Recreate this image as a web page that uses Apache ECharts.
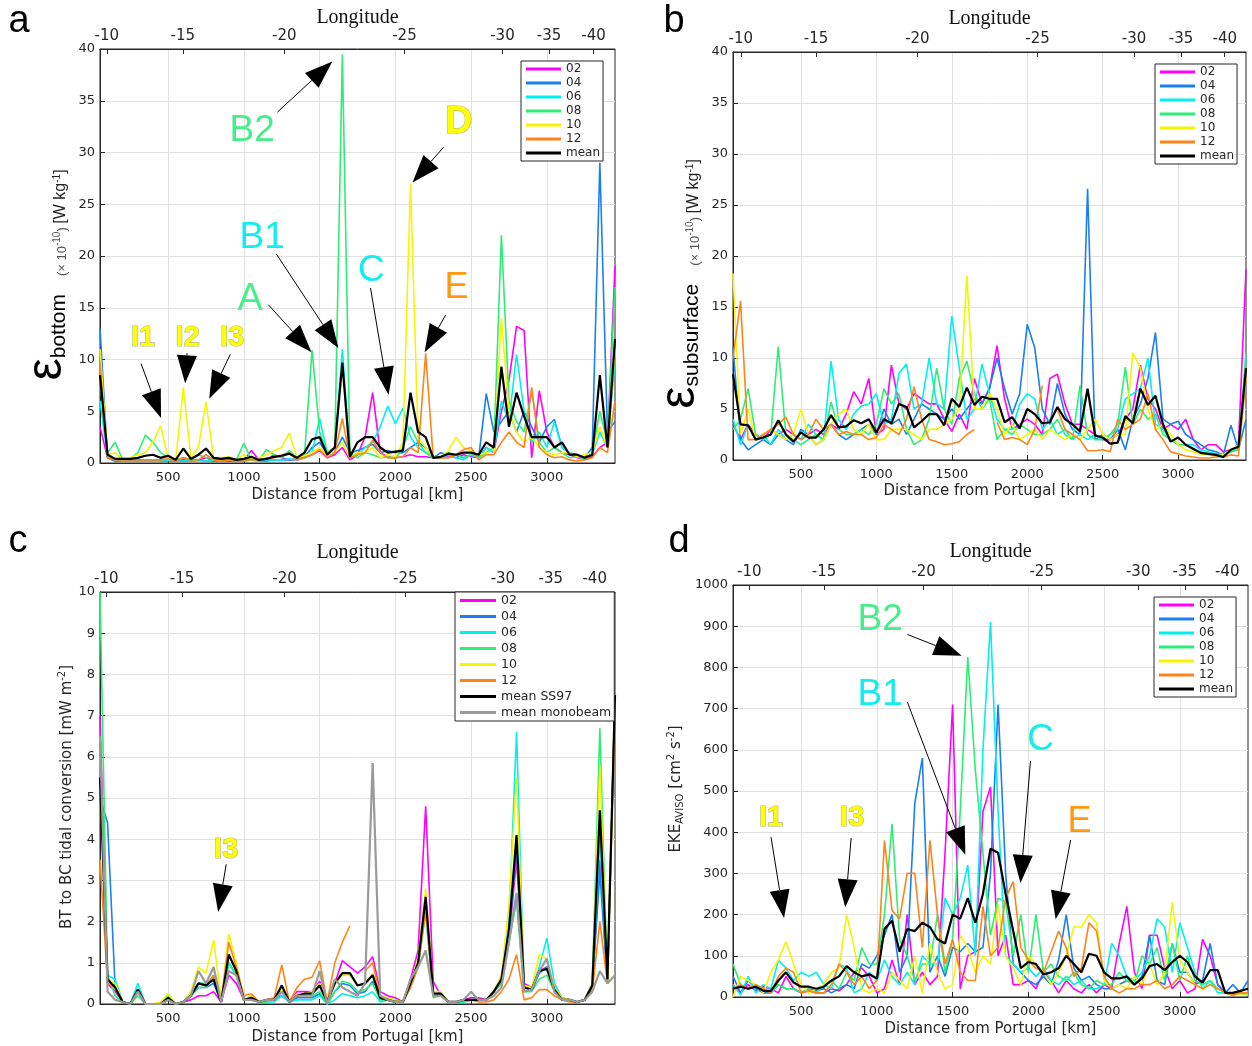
<!DOCTYPE html>
<html><head><meta charset="utf-8">
<script src="https://cdn.jsdelivr.net/npm/echarts@6/dist/echarts.min.js"></script>
<style>html,body{margin:0;padding:0;background:#fff}#c{width:1252px;height:1046px}</style>
</head><body><div id="c"></div>
<script>
// ---------- DATA ----------
const dist = [50,100,150,200,250,300,350,400,450,500,550,600,650,700,750,800,850,900,950,1000,1050,1100,1150,1200,1250,1300,1350,1400,1450,1500,1550,1600,1650,1700,1750,1800,1850,1900,1950,2000,2050,2100,2150,2200,2250,2300,2350,2400,2450,2500,2550,2600,2650,2700,2750,2800,2850,2900,2950,3000,3050,3100,3150,3200,3250,3300,3350,3400,3450];
const lonLabels = ['-10','-15','-20','-25','-30','-35','-40'];
const lonA = [95,597,1267,2060,2707,3015,3308];
const lonB = [102,600,1272,2068,2708,3020,3309];
const lonC = [92,592,1268,2066,2710,3026,3316];
const lonD = [158,651,1308,2088,2725,3033,3313];

// panel a: epsilon bottom
const bot02 = [3.5,0.5,0.2,0.2,0.3,0.2,0.3,0.3,0.2,0.3, 0.2,0.3,0.2,0.3,0.5,0.2,0.3,0.2,0.2,0.3, 1.2,0.3,0.3,0.8,0.5,0.3,0.3,0.5,0.8,1.2, 0.5,0.8,1.5,0.3,0.8,2.5,6.8,1.0,0.6,0.5, 0.6,0.8,0.6,0.6,0.5,0.6,0.7,0.5,0.8,0.6, 0.5,1.5,1.0,5.0,8.0,13.2,12.8,0.5,7.0,3.0, 1.5,1.0,0.8,0.5,0.4,0.6,1.5,2.0,19];
const bot04 = [13,0.5,0.2,0.2,0.2,0.2,0.2,0.2,0.2,0.2, 0.2,0.2,0.2,0.3,0.2,0.2,0.2,0.2,0.2,0.2, 0.3,0.2,0.2,0.3,0.3,0.3,0.4,0.6,1.5,2.0, 0.8,1.0,2.5,1.0,1.2,1.5,1.8,1.0,1.2,1.0, 1.0,1.5,2.0,1.5,0.5,1.0,0.8,0.8,0.5,0.8, 0.5,6.7,3.0,4.0,5.0,3.0,5.0,3.5,2.0,3.5, 4.2,1.5,1.0,0.8,0.5,1.5,29,3.0,4.0];
const bot06 = [6,0.5,0.3,0.2,0.2,0.2,0.2,0.2,0.2,0.3, 0.2,0.2,0.2,0.2,0.2,0.3,0.2,0.3,0.2,0.2, 0.3,0.2,0.3,0.3,0.3,0.4,0.3,0.5,1.0,4.3, 1.0,1.5,11,0.5,0.8,1.5,2.0,3.5,5.5,3.8, 5.3,2.5,1.5,1.0,0.5,0.5,0.8,0.5,0.3,0.8, 0.5,1.5,1.0,6.0,4.0,10.5,5.0,2.0,3.0,1.5, 4.0,1.5,1.0,0.6,0.5,0.8,3.0,1.5,10];
const bot08 = [8,1.0,2.0,0.3,0.4,1.0,2.7,2.0,1.0,0.5, 0.3,0.5,0.3,0.8,0.5,0.5,0.3,0.4,0.3,1.9, 0.3,0.3,1.3,0.8,0.5,1.2,0.5,0.8,10.9,3.0, 1.0,1.5,39.5,1.0,0.5,1.0,0.8,0.5,0.6,0.4, 1.5,3.5,2.0,1.0,0.5,0.6,1.0,0.8,0.5,0.8, 0.5,1.0,1.5,22,6,4,3,7.0,2.0,1.0, 1.5,1.0,0.5,0.6,0.4,1.0,5,2.0,17];
const bot10 = [11,0.8,1.0,0.3,0.5,0.8,1.0,2.0,3.6,0.5, 0.3,7.3,0.5,1.5,5.9,0.5,0.5,0.6,0.3,0.8, 0.3,0.5,0.8,1.2,1.5,2.9,0.5,0.7,1.0,1.5, 0.8,1.0,2.0,0.5,1.0,1.0,1.5,0.5,0.8,0.6, 2.0,27,2.5,1.5,0.5,0.6,1.2,2.5,1.5,1.2, 0.8,1.0,0.8,14,5,3,2,2.5,1.5,1.0, 0.8,1.0,1.0,0.6,0.8,1.0,3.5,1.5,11];
const bot12 = [9.5,0.5,0.3,0.3,0.3,0.3,0.3,0.3,0.3,0.4, 0.2,0.5,0.3,0.3,0.8,0.3,0.2,0.3,0.2,0.3, 0.3,0.3,0.5,0.5,0.8,1.0,0.3,0.5,0.8,1.3, 0.5,1.0,4.3,0.5,0.8,1.0,2.2,1.0,0.5,0.5, 0.6,1.5,1.0,10.6,0.5,0.5,0.5,0.8,1.3,1.5, 0.3,0.8,0.8,2.0,3.0,2.0,1.5,7.3,1.5,0.8, 0.5,0.6,0.3,0.2,0.3,0.5,1.5,1.0,6];
const botMean = [8.5,0.8,0.4,0.4,0.4,0.5,0.7,0.8,0.5,0.7, 0.3,1.4,0.4,0.8,1.4,0.5,0.4,0.5,0.3,0.4, 0.6,0.3,0.4,0.6,0.7,0.9,0.5,1.0,2.3,2.5, 0.8,1.5,9.7,0.6,2.0,2.5,2.5,1.5,1.0,1.1, 1.2,6.8,3.0,2.5,0.5,0.6,0.9,0.8,1.0,1.0, 0.8,2.0,1.5,9.3,3.5,6.8,4.5,2.5,2.5,2.5, 1.5,2.0,0.8,0.8,0.5,0.8,8.5,1.5,12];

// panel b: epsilon subsurface
const sub02 = [3.5,2.0,3.5,2.5,2.0,3.0,2.5,3.0,2.5,2.0, 2.5,3.0,2.5,3.5,3.0,4.5,6.7,5.5,8.0,2.5, 3.0,9.3,5.5,5.0,6.5,6.0,5.5,5.5,4.0,2.8, 4.5,3.0,8.0,5.5,7.0,11.2,6.0,3.0,3.5,4.0, 3.5,2.5,8.0,8.4,5.5,3.5,3.5,3.0,2.5,2.0, 2.0,2.5,4.0,5.0,9.3,6.0,5.0,3.0,3.5,3.0, 4.0,2.0,1.0,1.5,1.5,0.8,1.0,1.5,18.7];
const sub04 = [11,2.0,1.0,1.5,2.0,1.5,2.5,2.0,1.5,3.0, 2.5,1.5,2.0,3.5,2.5,2.0,2.5,3.0,3.5,2.5, 5.0,3.5,4.0,2.5,4.0,5.5,5.0,4.5,4.0,5.0, 4.0,5.0,6.0,5.5,7.0,10.0,7.0,4.5,6.5,13.3, 11.0,5.0,3.5,7.5,4.5,3.0,2.5,26.6,2.0,2.5, 2.0,3.0,1.0,4.0,5.5,8.0,12.5,4.0,3.5,3.8, 2.5,2.0,1.5,1.0,0.8,0.5,3.4,1.0,4.0];
const sub06 = [4.0,1.5,3.5,2.0,2.5,1.5,3.0,2.0,2.5,2.0, 3.5,2.5,2.0,9.7,4.0,3.0,4.5,5.3,5.5,6.5, 3.5,4.0,8.5,9.4,5.0,5.5,10.0,5.5,5.0,14.1, 9.0,4.0,5.0,9.4,6.5,4.0,3.0,3.0,5.5,6.5, 6.0,3.0,4.0,2.5,3.0,2.0,2.5,2.0,2.5,2.0, 2.5,3.0,6.0,6.5,7.0,10.0,3.5,3.0,2.0,1.5, 1.5,1.5,1.0,0.8,0.6,0.5,0.8,1.0,10];
const sub08 = [3.0,4.0,7.0,2.5,2.0,2.5,11.1,2.5,2.0,1.5, 2.0,2.5,2.0,5.7,3.0,2.5,2.5,3.0,2.5,3.5, 7.0,5.5,6.5,3.0,1.5,2.0,4.0,9.0,5.0,3.5, 8.0,9.7,6.5,5.0,6.0,2.0,3.0,2.5,3.5,3.0, 2.5,2.5,3.0,4.0,2.5,2.0,7.3,2.5,2.0,2.0, 2.5,3.5,9.1,3.5,5.0,4.0,4.5,2.5,2.0,1.5, 1.5,1.0,0.8,0.6,0.5,0.4,0.8,1.0,10.5];
const sub10 = [18.3,2.5,5.0,2.0,2.5,3.0,2.5,2.0,2.5,5.0, 2.5,1.5,2.0,3.5,4.5,5.0,3.0,2.5,3.5,2.0, 2.0,3.0,3.0,3.0,2.5,2.0,3.0,3.0,3.5,4.0, 5.0,18.1,5.0,5.0,6.5,5.0,2.5,3.5,2.0,2.5, 3.0,2.0,3.0,2.5,2.0,2.5,2.0,3.0,4.0,2.5, 2.0,2.5,2.5,10.5,9.0,5.0,3.0,3.5,2.5,1.5, 1.0,0.8,0.6,0.5,0.4,0.5,1.0,1.5,8.0];
const sub12 = [10,15.6,2.0,2.0,2.5,3.0,3.5,4.2,2.5,2.0, 2.5,4.0,3.0,3.5,2.5,2.8,2.5,2.5,2.0,2.2, 3.5,3.0,2.5,4.0,7.2,4.0,2.0,1.8,1.5,1.6, 1.8,2.5,3.0,null,null,3.7,2.0,2.2,2.0,1.5, 3.0,7.3,null,5.0,3.0,2.5,2.0,0.9,0.9,1.0, 0.8,4.0,3.0,3.5,4.0,6.5,3.0,2.0,0.8,0.6, 0.4,0.3,0.2,0.2,0.3,0.3,0.5,0.4,8.0];
const subMean = [8.4,3.5,3.4,2.0,2.2,2.5,3.9,2.5,1.8,2.7, 2.2,2.2,3.0,4.4,3.2,3.3,3.9,3.6,4.0,2.7, 4.0,3.6,5.5,5.2,3.2,3.8,4.5,4.5,3.4,6.0, 5.2,7.1,5.4,6.2,6.0,6.0,3.7,4.2,3.1,5.0, 4.5,3.6,3.7,5.2,4.0,3.5,2.8,7.0,2.4,2.2, 1.6,1.7,4.3,3.6,7.0,5.4,6.3,3.5,1.8,2.2, 1.5,1.1,0.7,0.6,0.5,0.3,1.0,1.3,9.0];

// panel c: BT to BC tidal conversion
const conv02 = [7.0,0.5,0.3,0.05,0,0.3,0,0,0,0.1, 0,0.05,0.1,0.2,0.2,0.3,0.05,0.7,0.5,0.1, 0.15,0.05,0.1,0.1,0.2,0.05,0.3,0.3,0.3,0.55, 0.05,0.5,1.05,0.9,0.75,0.9,1.15,0.3,0.2,0.15, 0.05,0.6,1.3,4.8,0.55,0.2,0.05,0.05,0.1,0.15, 0.15,0.1,0.3,0.5,1.6,3.5,0.5,0.4,0.8,0.9, 0.4,0.15,0.1,0.05,0.1,0.4,3.5,0.5,7.5];
const conv04 = [5.0,4.4,0.4,0.05,0,0.3,0,0,0,0.1, 0,0.05,0.2,0.4,0.4,0.5,0.05,1.0,0.7,0.1, 0.15,0.05,0.1,0.1,0.3,0.05,0.15,0.15,0.15,0.25, 0.0,0.3,0.5,0.45,0.25,0.3,0.55,0.15,0.15,0.1, 0.05,0.5,0.9,2.4,0.2,0.25,0.05,0.05,0.05,0.1, 0.1,0.1,0.3,0.6,1.6,3.8,0.4,0.35,0.75,0.9, 0.35,0.1,0.1,0.05,0.1,0.4,3.2,0.5,7.5];
const conv06 = [6.0,0.7,0.6,0.05,0,0.5,0,0,0,0.1, 0,0.05,0.2,0.5,0.5,0.6,0.05,1.0,0.7,0.1, 0.1,0.05,0.05,0.05,0.2,0.05,0.1,0.1,0.1,0.2, 0.0,0.1,0.25,0.2,0.15,0.2,0.3,0.05,0.1,0.05, 0.05,0.5,0.9,2.5,0.2,0.2,0.05,0.05,0.05,0.1, 0.1,0.1,0.3,0.6,2.0,6.6,0.4,0.35,0.9,1.6, 0.5,0.15,0.1,0.05,0.1,0.5,4.0,0.5,7.5];
const conv08 = [10.0,0.7,0.2,0.05,0,0.2,0,0,0,0.2, 0,0.05,0.2,0.4,0.4,0.7,0.05,1.0,0.7,0.1, 0.1,0.05,0.05,0.1,0.3,0.05,0.2,0.2,0.2,0.3, 0.0,0.3,0.55,0.5,0.3,0.35,0.5,0.1,0.1,0.05, 0.05,0.4,0.9,2.2,0.15,0.2,0.05,0.05,0.05,0.1, 0.1,0.1,0.3,0.5,1.5,2.5,0.3,0.3,0.6,0.7, 0.3,0.1,0.1,0.05,0.1,0.5,6.7,0.5,7.5];
const conv10 = [5.5,0.6,0.5,0.05,0,0.3,0,0,0.05,0.25, 0,0.05,0.3,0.9,0.75,1.55,0.1,1.7,1.0,0.1, 0.2,0.05,0.1,0.1,0.4,0.05,0.25,0.25,0.3,0.5, 0.0,0.5,0.7,0.7,0.45,0.5,0.75,0.2,0.15,0.1, 0.05,0.5,1.1,2.8,0.3,0.3,0.05,0.05,0.1,0.1, 0.1,0.1,0.3,0.7,2.4,5.5,0.45,0.4,1.2,1.1, 0.4,0.15,0.1,0.05,0.1,0.5,5.8,0.5,7.5];
const conv12 = [3.5,0.5,0.4,0.05,0,0.3,0,0,0,0.1, 0,0.05,0.2,0.5,0.45,0.7,0.05,1.5,0.9,0.2, 0.25,0.05,0.1,0.15,0.95,0.05,0.4,0.6,0.65,1.05, 0.05,1.0,1.5,1.9,null,0.8,1.0,0.2,0.1,0.05, 0.05,0.4,0.9,2.3,0.2,0.2,0.05,0.05,0.1,0.1, 0.05,0.05,0.1,0.3,0.6,1.2,0.1,0.15,0.35,0.35, 0.2,0.1,0.05,0.05,0.1,0.3,2.0,0.5,7.0];
const convMean = [5.5,0.6,0.4,0.05,0,0.35,0,0,0,0.15, 0,0.05,0.2,0.5,0.45,0.6,0.05,1.2,0.8,0.1, 0.15,0.05,0.1,0.1,0.45,0.05,0.2,0.25,0.25,0.45, 0.05,0.5,0.75,0.75,0.45,0.5,0.7,0.15,0.1,0.05, 0.05,0.5,1.0,2.6,0.25,0.25,0.05,0.05,0.1,0.1, 0.1,0.1,0.3,0.6,1.8,4.1,0.4,0.35,0.8,0.85, 0.35,0.1,0.1,0.05,0.1,0.45,4.7,0.6,7.5];
const convMono = [6.5,0.3,0.1,0.05,0,0.3,0,0,0,0.1, 0,0.05,0.2,0.8,0.5,0.9,0.05,0.8,0.7,0.1, 0.1,0.05,0.1,0.1,0.3,0.05,0.2,0.2,0.2,0.8, 0.0,0.6,0.4,0.3,0.2,0.5,5.85,0.2,0.1,0.05, 0.05,0.6,0.9,1.3,0.2,0.2,0.05,0.05,0.1,0.3, 0.1,0.1,0.2,0.4,1.5,2.7,0.3,0.35,0.8,1.1, 0.3,0.1,0.1,0.05,0.1,0.3,0.8,0.5,0.7];

// panel d: EKE AVISO
const eke02 = [30,10,30,15,25,20,10,50,20,10, 15,10,10,20,15,30,60,70,50,10, 20,90,30,200,30,60,30,50,350,710, 20,100,110,450,510,100,150,30,30,40, 20,60,40,10,40,20,10,30,10,30, 20,130,220,60,20,150,150,70,20,40, 10,20,140,100,30,10,5,10,5];
const eke04 = [50,10,40,20,10,10,30,20,20,10, 20,15,20,10,20,30,20,80,70,100, 150,200,60,100,470,580,60,100,50,120, 110,130,110,120,300,710,300,80,60,40, 30,50,30,90,200,70,40,50,30,20, 20,30,40,30,50,150,40,30,130,60, 60,30,40,130,30,10,30,10,40];
const eke06 = [30,5,50,10,30,20,90,70,40,60, 50,60,30,20,80,70,10,20,60,40, 90,50,30,60,30,100,80,80,240,200, 240,320,100,600,910,450,100,80,60,70, 50,70,40,30,50,30,40,20,20,30, 130,100,50,40,60,100,190,170,60,180, 120,60,20,40,10,10,5,10,5];
const eke08 = [80,30,20,30,20,10,30,20,20,10, 20,10,30,40,20,60,40,120,80,80, 200,420,140,100,40,80,80,200,60,140, 450,825,550,350,150,240,230,100,200,60, 200,60,80,50,40,60,30,20,40,30, 30,60,40,30,100,80,120,40,130,40, 100,40,30,40,20,10,5,10,10];
const eke10 = [0,50,40,30,10,60,90,135,80,30, 10,20,30,60,70,200,120,20,10,20, 10,60,40,20,100,10,130,60,20,30, 150,120,60,100,80,225,100,70,30,100, 80,60,30,60,100,170,170,200,180,40, 20,30,20,50,30,80,30,60,230,90, 60,30,20,30,20,10,10,5,5];
const eke12 = [20,30,20,30,20,10,50,70,60,10, 15,10,10,30,80,60,30,50,20,40, 380,210,190,300,300,120,380,200,80,140, 60,40,40,220,100,120,240,280,120,90, 70,60,110,160,120,50,70,180,160,50, 20,10,20,20,30,30,40,20,30,50, 40,30,20,30,20,10,5,10,10];
const ekeMean = [20,25,20,25,15,15,40,60,35,25, 25,20,25,40,50,75,60,50,55,45, 165,185,110,165,160,180,170,140,130,200, 190,240,180,250,360,350,250,160,70,85, 80,55,60,70,100,80,60,105,100,60, 45,45,50,30,45,75,80,65,85,100, 85,50,35,65,65,10,10,15,20];

// annotations (data coordinates): label position, arrow start, arrow tip
const annotA = [
  {t:'B2', c:'#44ee88', s:37, b:false, at:[1055,32.1], from:[1221,33.9], to:[1584,38.8]},
  {t:'D',  c:'#ffff00', s:38, b:true,  at:[2418,32.9], from:[2318,30.5], to:[2113,27.1]},
  {t:'B1', c:'#11eeee', s:37, b:false, at:[1121,21.8], from:[1214,20.2], to:[1624,11.1]},
  {t:'A',  c:'#44ee88', s:38, b:false, at:[1042,15.8], from:[1161,15.3], to:[1446,10.7]},
  {t:'C',  c:'#11eeee', s:37, b:false, at:[1842,18.6], from:[1836,16.9], to:[1955,6.6]},
  {t:'E',  c:'#ff9a10', s:36, b:false, at:[2404,16.9], from:[2332,14.3], to:[2193,10.7]},
  {t:'I1', c:'#ffff00', s:29, b:true,  at:[334,12.1],  from:[321,9.6],   to:[453,4.35]},
  {t:'I2', c:'#ffff00', s:29, b:true,  at:[629,12.1],  from:[625,10.6],  to:[612,7.7]},
  {t:'I3', c:'#ffff00', s:29, b:true,  at:[923,12.1],  from:[910,10.5],  to:[771,6.2]}
];
const annotC = [
  {t:'I3', c:'#ffff00', s:29, b:true, at:[883,3.75], from:[883,3.39], to:[830,2.23]}
];
const annotD = [
  {t:'B2', c:'#44ee88', s:37, b:false, at:[1022,915], from:[1201,880], to:[1560,828]},
  {t:'B1', c:'#11eeee', s:37, b:false, at:[1022,733], from:[1201,716], to:[1584,345]},
  {t:'C',  c:'#11eeee', s:37, b:false, at:[2080,624], from:[2014,573], to:[1948,277]},
  {t:'E',  c:'#ff9a10', s:36, b:false, at:[2338,425], from:[2279,381], to:[2180,189]},
  {t:'I1', c:'#ffff00', s:29, b:true,  at:[301,434],  from:[301,388],  to:[387,192]},
  {t:'I3', c:'#ffff00', s:29, b:true,  at:[837,434],  from:[830,386],  to:[791,218]}
];

// ---------- STYLE ----------
const FONT = 'DejaVu Sans';
const TXT = '#262626';
const colors = {'02':'#ff00ff','04':'#1a7ff0','06':'#00f0f0','08':'#2dee74','10':'#f5f500','12':'#ff8418','mean':'#000000','mean SS97':'#000000','mean monobeam':'#9a9a9a'};

const panels = [
  {grid:{left:100,top:49,width:515,height:414}, ymax:40, yint:5, lon:lonA, lonGap:19, distGap:25,
   leg:{left:521,top:61,fs:12,gap:2,w:35},
   series:[['02',bot02],['04',bot04],['06',bot06],['08',bot08],['10',bot10],['12',bot12],['mean',botMean]], ann:annotA},
  {grid:{left:733,top:52,width:513,height:408}, ymax:40, yint:5, lon:lonB, lonGap:23, distGap:24,
   leg:{left:1155,top:64,fs:12,gap:2,w:35},
   series:[['02',sub02],['04',sub04],['06',sub06],['08',sub08],['10',sub10],['12',sub12],['mean',subMean]], ann:[]},
  {grid:{left:100,top:592,width:515,height:413}, ymax:10, yint:1, lon:lonC, lonGap:29, distGap:26,
   leg:{left:455,top:592,fs:12.5,gap:3,w:36},
   series:[['02',conv02],['04',conv04],['06',conv06],['08',conv08],['10',conv10],['12',conv12],['mean SS97',convMean],['mean monobeam',convMono]], ann:annotC},
  {grid:{left:733,top:585,width:515,height:412}, ymax:1000, yint:100, lon:lonD, lonGap:23, distGap:25,
   leg:{left:1154,top:597,fs:12,gap:2,w:35},
   series:[['02',eke02],['04',eke04],['06',eke06],['08',eke08],['10',eke10],['12',eke12],['mean',ekeMean]], ann:annotD}
];

function nearestIdx(arr, v){ let b=0; for(let i=1;i<arr.length;i++){ if(Math.abs(arr[i]-v)<Math.abs(arr[b]-v)) b=i; } return b; }
const plain = (v)=>String(v);

const option = {animation:false, backgroundColor:'#fff', grid:[], xAxis:[], yAxis:[], legend:[], series:[]};
panels.forEach((p,k)=>{
  option.grid.push(Object.assign({show:true, borderColor:TXT, borderWidth:1, backgroundColor:'rgba(0,0,0,0)'}, p.grid));
  option.xAxis.push({type:'value', gridIndex:k, position:'bottom', min:50, max:3450, splitNumber:7,
    axisLine:{show:true, onZero:false, lineStyle:{color:TXT, width:1}},
    axisTick:{show:true, inside:true, length:5, lineStyle:{color:TXT}},
    axisLabel:{showMinLabel:false, showMaxLabel:false, formatter:plain, fontFamily:FONT, fontSize:13, color:TXT, margin:8},
    splitLine:{show:true, showMinLine:false, showMaxLine:false, lineStyle:{color:'#e1e1e1', width:1}},
    name:'Distance from Portugal [km]', nameLocation:'middle', nameGap:p.distGap,
    nameTextStyle:{fontFamily:FONT, fontSize:15, color:TXT}});
  const lon = p.lon;
  option.xAxis.push({type:'value', gridIndex:k, position:'top', min:50, max:3450,
    axisLine:{show:true, onZero:false, lineStyle:{color:TXT, width:1}},
    axisTick:{show:true, inside:true, length:5, customValues:lon, lineStyle:{color:TXT}},
    axisLabel:{customValues:lon, formatter:(v)=>lonLabels[nearestIdx(lon, v)], fontFamily:FONT, fontSize:15, color:TXT, margin:5},
    splitLine:{show:false},
    name:'Longitude', nameLocation:'middle', nameGap:p.lonGap,
    nameTextStyle:{fontFamily:'Liberation Serif', fontSize:20, color:'#111'}});
  option.yAxis.push({type:'value', gridIndex:k, min:0, max:p.ymax, interval:p.yint,
    axisLine:{show:true, onZero:false, lineStyle:{color:TXT, width:1}},
    axisTick:{show:true, inside:true, length:5, lineStyle:{color:TXT}},
    axisLabel:{formatter:plain, fontFamily:FONT, fontSize:13, color:TXT, margin:5},
    splitLine:{show:true, showMinLine:false, showMaxLine:false, lineStyle:{color:'#e1e1e1', width:1}}});
  option.legend.push({orient:'vertical', left:p.leg.left, top:p.leg.top, data:p.series.map(s=>s[0]),
    icon:'rect', itemWidth:p.leg.w, itemHeight:3, itemGap:p.leg.gap, padding:[2,3,2,5],
    backgroundColor:'#fff', borderColor:TXT, borderWidth:1, borderRadius:0, selectedMode:false,
    textStyle:{fontFamily:FONT, fontSize:p.leg.fs, color:TXT, lineHeight:p.leg.fs}});
  p.series.forEach(([name, arr])=>{
    const isMean = name.indexOf('mean')===0;
    option.series.push({type:'line', name, xAxisIndex:2*k, yAxisIndex:k,
      data: dist.map((d,i)=>[d, arr[i]]), showSymbol:false, symbol:'none', connectNulls:false,
      lineStyle:{color:colors[name], width: isMean ? 2.2 : 1.6}, itemStyle:{color:colors[name]},
      emphasis:{disabled:true}, silent:true});
  });
});

const chart = echarts.init(document.getElementById('c'), null, {width:1252, height:1046});
chart.setOption(option);

// ---------- ANNOTATIONS & TITLES ----------
const g = [];
function txt(x,y,text,extra,rot){
  const st = Object.assign({text:text, fill:'#000', align:'center', verticalAlign:'middle', textAlign:'center', textVerticalAlign:'middle'}, extra);
  const el = {type:'text', x:x, y:y, z:100, silent:true, style:st};
  if (rot) el.rotation = rot;
  g.push(el);
}
// panel letters
[['a',19,41],['b',674,41],['c',18,561],['d',679,561]].forEach(([t,x,y])=>{
  txt(x,y,t,{fontSize:38, fontFamily:'Liberation Sans', verticalAlign:'bottom', textVerticalAlign:'bottom'});
});
// y-axis titles
const LS = 'Liberation Sans';
const epsRich = {
  e:{fontSize:50, lineHeight:50, fontFamily:LS, verticalAlign:'bottom', padding:[0,0,0,0], fill:'#000', color:'#000'},
  sub:{fontSize:21, lineHeight:21, fontFamily:LS, verticalAlign:'bottom', padding:[0,0,2,0], fill:'#000', color:'#000'},
  sp:{fontSize:13, lineHeight:13, fontFamily:LS, verticalAlign:'bottom', padding:[0,0,3,0]},
  sm:{fontSize:13, lineHeight:13, fontFamily:LS, verticalAlign:'bottom', padding:[0,0,3.5,0], fill:'#555', color:'#555'},
  supg:{fontSize:10, lineHeight:10, fontFamily:LS, verticalAlign:'bottom', padding:[0,0,10,0], fill:'#555', color:'#555'},
  u:{fontSize:16, lineHeight:16, fontFamily:LS, verticalAlign:'bottom', padding:[0,0,3,0], fill:'#222', color:'#222'},
  sup:{fontSize:10, lineHeight:10, fontFamily:LS, verticalAlign:'bottom', padding:[0,0,10,0], fill:'#222', color:'#222'}
};
txt(47, 275, '{e|ε}{sub|bottom}{sp|     }{sm|(× 10}{supg|-10}{sm|)}{sp| }{u|[W kg}{sup|-1}{u|]}', {rich:epsRich, fontSize:13}, Math.PI/2);
txt(680, 284, '{e|ε}{sub|subsurface}{sp|     }{sm|(× 10}{supg|-10}{sm|)}{sp| }{u|[W kg}{sup|-1}{u|]}', {rich:epsRich, fontSize:13}, Math.PI/2);
const plainRich = {
  m:{fontSize:15, lineHeight:15, fontFamily:FONT, verticalAlign:'bottom', padding:[0,0,3,0], fill:TXT, color:TXT},
  sup:{fontSize:10, lineHeight:10, fontFamily:FONT, verticalAlign:'bottom', padding:[0,0,10,0], fill:TXT, color:TXT},
  sub:{fontSize:10, lineHeight:10, fontFamily:FONT, verticalAlign:'bottom', padding:[0,0,1,0], fill:TXT, color:TXT}
};
txt(70, 797, '{m|BT to BC tidal conversion [mW m}{sup|-2}{m|]}', {rich:plainRich, fontSize:15}, Math.PI/2);
txt(679, 789, '{m|EKE}{sub|AVISO}{m| [cm}{sup|2}{m| s}{sup|-2}{m|]}', {rich:plainRich, fontSize:15}, Math.PI/2);

// arrows + labels in data coordinates
panels.forEach((p,k)=>{
  p.ann.forEach(a=>{
    const f = {xAxisIndex:2*k, yAxisIndex:k};
    const P = chart.convertToPixel(f, a.at);
    const S = chart.convertToPixel(f, a.from);
    const T = chart.convertToPixel(f, a.to);
    const dx=T[0]-S[0], dy=T[1]-S[1], len=Math.hypot(dx,dy)||1, ux=dx/len, uy=dy/len;
    const L=28, W=10;
    const B=[T[0]-ux*L, T[1]-uy*L];
    if (len > L) g.push({type:'line', z:100, silent:true, shape:{x1:S[0],y1:S[1],x2:B[0],y2:B[1]}, style:{stroke:'#000', lineWidth:1}});
    g.push({type:'polygon', z:101, silent:true, shape:{points:[[T[0],T[1]],[B[0]-uy*W,B[1]+ux*W],[B[0]+uy*W,B[1]-ux*W]]}, style:{fill:'#000'}});
    const ex = {fontSize:a.s, fontFamily:LS, fontWeight:a.b?'bold':'normal', fill:a.c};
    if (a.b) { ex.stroke = 'rgba(120,120,40,0.55)'; ex.lineWidth = 1.2; }
    txt(P[0], P[1], a.t, ex);
  });
});
chart.setOption({graphic: g});
</script>
</body></html>
